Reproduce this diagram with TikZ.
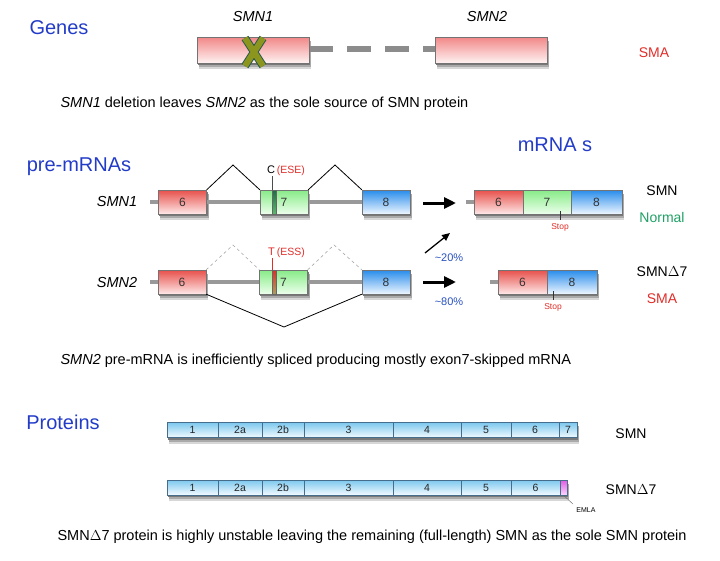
\documentclass[tikz,border=0pt]{standalone}
\usepackage{fontspec}
\setmainfont{Liberation Sans}
\usetikzlibrary{arrows.meta}
\definecolor{headblue}{RGB}{35,60,200}
\definecolor{smared}{RGB}{225,45,40}
\definecolor{okgreen}{RGB}{30,160,100}
\definecolor{pctblue}{RGB}{40,80,190}
\definecolor{redtop}{RGB}{232,80,75}
\definecolor{redbot}{RGB}{253,232,232}
\definecolor{genetop}{RGB}{242,135,135}
\definecolor{genebot}{RGB}{255,242,242}
\definecolor{greentop}{RGB}{135,235,135}
\definecolor{greenbot}{RGB}{236,255,236}
\definecolor{bluetop}{RGB}{40,140,235}
\definecolor{bluebot}{RGB}{238,246,255}
\definecolor{prottop}{RGB}{125,200,238}
\definecolor{protbot}{RGB}{242,250,255}
\definecolor{protline}{RGB}{70,110,140}
\definecolor{xolive}{RGB}{140,150,30}
\definecolor{xedge}{RGB}{40,90,80}
\definecolor{cmark}{RGB}{30,110,70}
\definecolor{shadeA}{RGB}{120,120,120}
\definecolor{shadeB}{RGB}{170,170,170}
\definecolor{shadeC}{RGB}{215,215,215}

\begin{document}
\begin{tikzpicture}[x=1pt,y=-1pt,
  head/.style={text=headblue,font=\fontsize{20}{22}\selectfont},
  note/.style={anchor=west,font=\fontsize{14.5}{17}\selectfont},
  lab/.style={font=\fontsize{14}{16}\selectfont},
  gname/.style={font=\fontsize{14.5}{16}\selectfont\itshape},
  box/.style={draw=black!55,line width=0.4pt,inner sep=0pt,minimum height=24pt,text=black!80,
    font=\fontsize{12}{12}\selectfont},
  exred/.style={box,minimum width=48pt,top color=redtop,bottom color=redbot},
  exgreen/.style={box,minimum width=48pt,top color=greentop,bottom color=greenbot},
  exblue/.style={box,minimum width=48pt,top color=bluetop,bottom color=bluebot},
  genebox/.style={box,minimum width=112pt,minimum height=26pt,top color=genetop,bottom color=genebot},
  backbone/.style={draw=black!40,line width=3.5pt},
  splice/.style={draw=black,line width=0.8pt},
  nosplice/.style={draw=black!35,line width=0.6pt,dash pattern=on 3pt off 3pt},
  bigarrow/.style={line width=3pt,-{Triangle[length=12pt,width=11pt]}},
  protseg/.style={draw=protline,line width=0.4pt,inner sep=0pt,minimum height=15pt,
    top color=prottop,bottom color=protbot,text=black!85,font=\fontsize{10.5}{10.5}\selectfont},
  stoplab/.style={text=smared,font=\fontsize{8.5}{9}\selectfont}]
  \useasboundingbox (0,0) rectangle (720,560);

  \foreach \xa/\ya/\xb/\yb in {197/37/309/63,435/37/547/63,
      158/190/207/214,260/190/308/214,362/190/410/214,
      158/270/206/294,259/270/308/294,362/270/410/294,
      474/190/622/214,498/270/597/294,167/422/577/438,167/480/567/495} {
    \fill[shadeC] (\xa+2,\ya+6) rectangle (\xb+2,\yb+6);
    \fill[shadeB] (\xa+1.5,\ya+4) rectangle (\xb+1.5,\yb+4);
    \fill[shadeA] (\xa+1,\ya+2) rectangle (\xb+1,\yb+2);
  }

  \coordinate (k1) at (309,49);
  \coordinate (k2) at (435,49);
  \draw[draw=black!45,line width=6pt,dash pattern=on 24pt off 14pt] (k1) -- (k2);
  \coordinate (s1) at (150,202);
  \coordinate (s1e) at (362,202);
  \draw[backbone] (s1) -- (s1e);
  \coordinate (s2) at (150,282);
  \coordinate (s2e) at (362,282);
  \draw[backbone] (s2) -- (s2e);
  \coordinate (t1) at (466,202);
  \coordinate (t1e) at (476,202);
  \draw[backbone] (t1) -- (t1e);
  \coordinate (t2) at (490,282);
  \coordinate (t2e) at (500,282);
  \draw[backbone] (t2) -- (t2e);

  \node[head] (genes) at (59,28) {Genes};
  \node[gname] (smn1g) at (253,17) {SMN1};
  \node[gname] (smn2g) at (487,17) {SMN2};
  \node[genebox] (g1) at (253,50) {};
  \node[genebox] (g2) at (491,50) {};
  \draw[xedge,line width=8pt] (245,38) -- (263,66) (263,38) -- (245,66);
  \draw[xolive,line width=6pt] (245,38) -- (263,66) (263,38) -- (245,66);
  \node[lab,text=smared] (sma1) at (654,53) {SMA};
  \node[note] (line1) at (57,104) {\textit{SMN1} deletion leaves \textit{SMN2} as the sole source of SMN protein};

  \node[head] (pre) at (79,167) {pre-mRNAs};
  \node[head] (mrna) at (555,145) {mRNA s};

  \node[gname] (smn1p) at (117,202) {SMN1};
  \node[exred] (e6a) at (182.5,202) {6};
  \node[exgreen] (e7a) at (284,202) {7};
  \node[exblue] (e8a) at (386,202) {8};
  \node[draw=black!60,line width=0.3pt,minimum width=4pt,minimum height=24pt,inner sep=0pt,
    top color=cmark,bottom color=cmark!40!greentop] (cm) at (274,202) {};
  \node[anchor=west,inner sep=0pt] (cese) at (267,171)
    {\fontsize{11}{11}\selectfont C\,\textcolor{smared}{\fontsize{10.5}{11}\selectfont(ESE)}};
  \draw[black!70,line width=0.5pt] (cm.north west) -- (cm.north west |- cese.south);
  \coordinate (p1) at (233,165);
  \coordinate (p2) at (335,165);
  \draw[splice] (e6a.north east) -- (p1) -- (e7a.north west);
  \draw[splice] (e7a.north east) -- (p2) -- (e8a.north west);

  \node[gname] (smn2p) at (117,283) {SMN2};
  \node[exred] (e6b) at (182,282) {6};
  \node[exgreen] (e7b) at (283.5,282) {7};
  \node[exblue] (e8b) at (386,282) {8};
  \node[draw=black!60,line width=0.3pt,minimum width=4pt,minimum height=24pt,inner sep=0pt,
    top color=smared,bottom color=smared!40!greentop] (tm) at (274,282) {};
  \node[anchor=west,inner sep=0pt,text=smared] (tess) at (268,253)
    {\fontsize{11}{11}\selectfont T\,\fontsize{10.5}{11}\selectfont(ESS)};
  \draw[smared,line width=0.5pt] (tm.north west) -- (tm.north west |- tess.south);
  \coordinate (q1) at (233,245);
  \coordinate (q2) at (334,245);
  \coordinate (q3) at (284,327);
  \draw[nosplice] (e6b.north east) -- (q1) -- (e7b.north west);
  \draw[nosplice] (e7b.north east) -- (q2) -- (e8b.north west);
  \draw[splice] (e6b.south east) -- (q3) -- (e8b.south west);

  \coordinate (a1) at (423,203);
  \coordinate (b1) at (456,203);
  \coordinate (a2) at (423,282);
  \coordinate (b2) at (456,282);
  \coordinate (a3) at (425,253);
  \coordinate (b3) at (450,233);
  \draw[bigarrow] (a1) -- (b1);
  \draw[bigarrow] (a2) -- (b2);
  \draw[line width=1.3pt,-{Triangle[length=8pt,width=7pt]}] (a3) -- (b3);
  \node[text=pctblue,font=\fontsize{11}{12}\selectfont] (p20) at (449,258) {\textasciitilde20\%};
  \node[text=pctblue,font=\fontsize{11}{12}\selectfont] (p80) at (449,302) {\textasciitilde80\%};

  \node[exred,minimum width=49pt] (m6a) at (498.5,202) {6};
  \node[exgreen,minimum width=48pt] (m7a) at (547,202) {7};
  \node[exblue,minimum width=51pt] (m8a) at (596.5,202) {8};
  \coordinate (st1) at (560,211);
  \node[stoplab] (stop1) at (560,227) {Stop};
  \draw[black!80,line width=0.6pt] (st1) -- (stop1.north);
  \node[lab] (smnm) at (662,191) {SMN};
  \node[lab,text=okgreen] (norm) at (662,217) {Normal};

  \node[exred,minimum width=49pt] (m6b) at (522.5,282) {6};
  \node[exblue,minimum width=50pt] (m8b) at (572,282) {8};
  \coordinate (st2) at (553,291);
  \node[stoplab] (stop2) at (553,307) {Stop};
  \draw[black!80,line width=0.6pt] (st2) -- (stop2.north);
  \node[lab] (d7m) at (662,272) {SMN$\Delta$7};
  \node[lab,text=smared] (sma2) at (662,299) {SMA};

  \node[note] (line2) at (57,361) {\textit{SMN2} pre-mRNA is inefficiently spliced producing mostly exon7-skipped mRNA};

  \node[head] (prots) at (63,422) {Proteins};
  \foreach \a/\b/\t [count=\i] in {167/218/1,218/262/2a,262/304/2b,304/393/3,393/461/4,461/511/5,511/559/6,559/577/7}
    \node[protseg,minimum width={(\b-\a)*1pt}] (u\i) at ({(\a+\b)/2},430) {\t};
  \node[lab] (smnp) at (631,434) {SMN};

  \foreach \a/\b/\t [count=\i] in {167/218/1,218/262/2a,262/304/2b,304/393/3,393/461/4,461/511/5,511/560/6}
    \node[protseg,minimum width={(\b-\a)*1pt}] (v\i) at ({(\a+\b)/2},487.5) {\t};
  \node[draw=protline,line width=0.4pt,inner sep=0pt,minimum height=15pt,minimum width=7pt,
    top color={rgb,255:red,225;green,90;blue,225},bottom color={rgb,255:red,252;green,215;blue,252}] (emla) at (563.5,487.5) {};
  \node[lab] (d7p) at (631,490) {SMN$\Delta$7};
  \node[font=\fontsize{7}{8}\selectfont] (emlat) at (586,510) {EMLA};
  \draw[black!60,line width=0.4pt] (emla.south) -- (emlat.north west);

  \node[note] (line3) at (54,537) {SMN$\Delta$7 protein is highly unstable leaving the remaining (full-length) SMN as the sole SMN protein};
\end{tikzpicture}
\end{document}
